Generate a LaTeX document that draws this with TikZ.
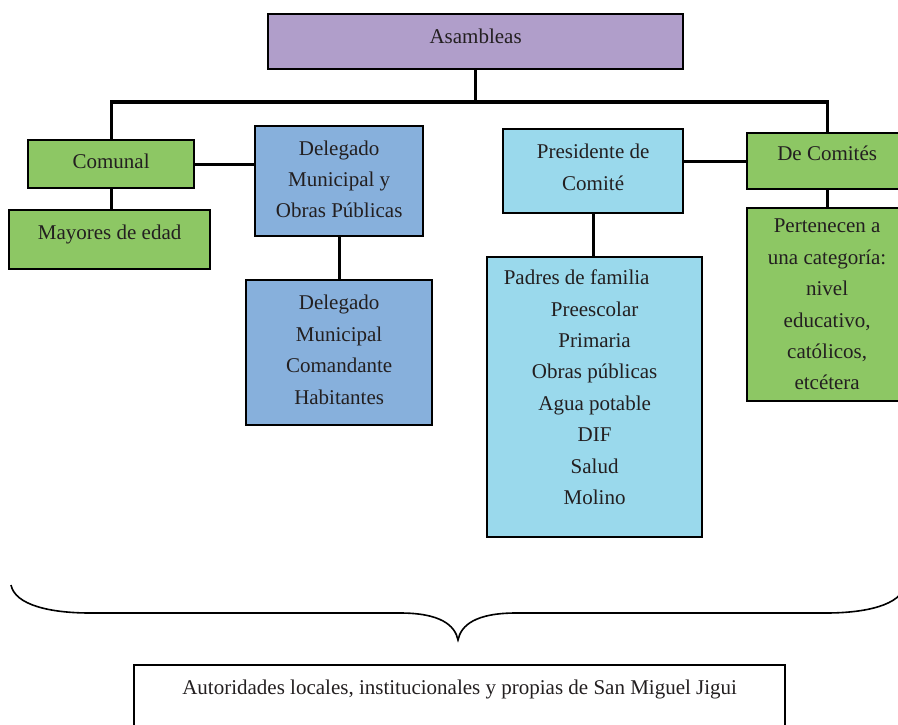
\documentclass[tikz,border=0pt]{standalone}
\usepackage{fontspec}
\setmainfont{Liberation Serif}
\usepackage{tikz}
\usetikzlibrary{positioning, calc}
\usepackage{xcolor}
\definecolor{asamcol}{HTML}{B09ECA}
\definecolor{greencol}{HTML}{8DC764}
\definecolor{bluecol}{HTML}{87B0DC}
\definecolor{cyancol}{HTML}{9AD9EC}
\definecolor{textcol}{HTML}{231F20}
\tikzset{
  % coloured box of the chart
  orgbox/.style={draw=black, line width=2.3pt, fill=#1, text=textcol,
                 align=center, inner sep=0pt, anchor=north west,
                 font=\fontsize{21}{31.4}\selectfont},
  % plain connector line
  link/.style={draw=black, line width=3.2pt},
}

\begin{document}
\begin{tikzpicture}[x=1pt, y=-1pt]
  \useasboundingbox (0,0) rectangle (898,724);
  \clip (0,0) rectangle (898,724);
  % top level
  \node[orgbox=asamcol, minimum width=415pt, minimum height=55pt, text depth=10pt] (asam) at (267,13) {Asambleas};

  % left branch
  \node[orgbox=greencol, minimum width=166pt, minimum height=48pt, text depth=6pt] (comunal) at (27,139) {Comunal};
  \node[orgbox=greencol, minimum width=201pt, minimum height=59pt, text depth=14pt] (mayores) at (8,209) {Mayores de edad};
  \node[orgbox=bluecol, minimum width=168pt, minimum height=110pt, text depth=4pt] (delg) at (254,125)
    {Delegado\\Municipal y\\Obras Públicas};
  \node[orgbox=bluecol, minimum width=186pt, minimum height=145pt, text depth=6pt] (delgb) at (245,279)
    {Delegado\\Municipal\\Comandante\\Habitantes};

  % right branch
  \node[orgbox=cyancol, minimum width=180pt, minimum height=84pt, text depth=8pt] (pres) at (502,128)
    {Presidente de\\Comité};
  \node[orgbox=cyancol, minimum width=215pt, minimum height=280pt, text depth=20pt] (padres) at (486,256)
    {\hspace*{-36pt}Padres de familia\\Preescolar\\Primaria\\Obras públicas\\Agua potable\\DIF\\Salud\\Molino};
  \node[orgbox=greencol, minimum width=160pt, minimum height=56pt, text depth=16pt] (comites) at (746,132) {De Comités};
  \node[orgbox=greencol, minimum width=160pt, minimum height=193pt] (pert) at (746,207)
    {Pertenecen a\\una categoría:\\nivel\\educativo,\\católicos,\\etcétera};

  % connectors
  \coordinate (bus) at (0,102);
  \draw[link] (asam.south) -- (asam.south |- bus);
  \draw[link] (comunal.north) |- (asam.south |- bus) -| (comites.north);
  \draw[link] (comunal.east) -- (comunal.east -| delg.west);
  \draw[link] (comunal.south) -- (mayores.north -| comunal.south);
  \draw[link] (delg.south) -- (delgb.north -| delg.south);
  \draw[link] (pres.east |- comites.west) -- (comites.west);
  \draw[link] (pres.south) -- (padres.north -| pres.south);
  \draw[link] (comites.south) -- (pert.north -| comites.south);

  % brace over everything
  \draw[line width=1.6pt]
    (11,585) .. controls (15,605) and (50,613) .. (90,613) -- (400,613)
    .. controls (440,613) and (455,625) .. (458,640)
    .. controls (461,625) and (476,613) .. (516,613) -- (826,613)
    .. controls (866,613) and (901,605) .. (905,585);

  % summary box
  \node[orgbox=white, minimum width=651pt, inner ysep=15pt, text depth=60pt] (autor) at (133,664)
    {Autoridades locales, institucionales y propias de San Miguel Jigui};
\end{tikzpicture}
\end{document}
